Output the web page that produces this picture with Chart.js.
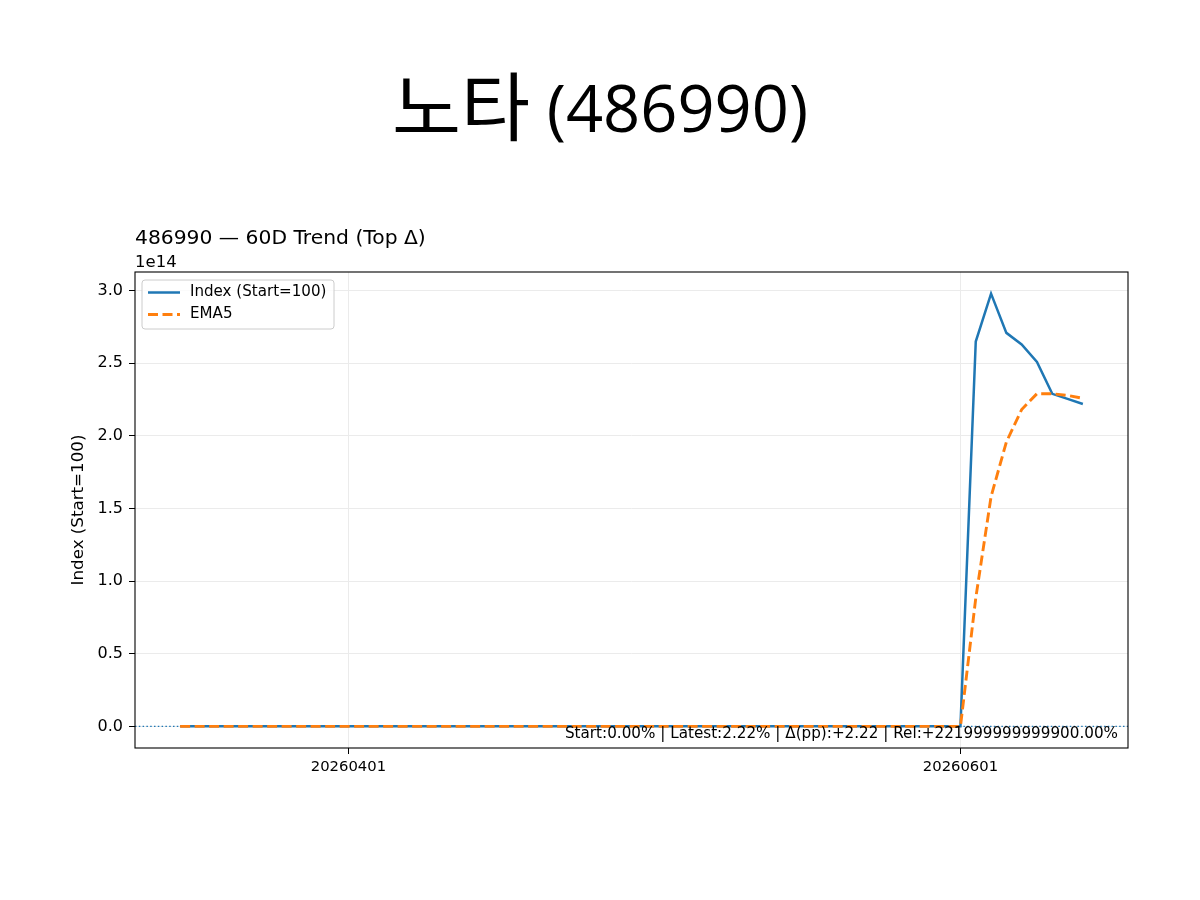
<!DOCTYPE html>
<html><head><meta charset="utf-8">
<script src="https://cdn.jsdelivr.net/npm/chart.js@4.4.1/dist/chart.umd.min.js"></script>
<style>html,body{margin:0;padding:0;background:#fff;} #wrap{width:1200px;height:900px;}</style>
</head><body><div id="wrap"><canvas id="c" width="1200" height="900"></canvas></div>
<script>
// ---- data ----
const dates = [
 '20260317','20260318','20260319','20260320','20260323','20260324','20260325','20260326','20260327','20260330','20260331',
 '20260401','20260402','20260403','20260406','20260407','20260408','20260409','20260410','20260413','20260414','20260415',
 '20260416','20260417','20260420','20260421','20260422','20260423','20260424','20260427','20260428','20260429','20260430',
 '20260504','20260506','20260507','20260508','20260511','20260512','20260513','20260514','20260515','20260518','20260519',
 '20260520','20260521','20260522','20260526','20260527','20260528','20260529',
 '20260601','20260602','20260604','20260605','20260608','20260609','20260610','20260611','20260612'
];
const indexValues = [
 100,100,100,100,100,100,100,100,100,100,100,
 100,100,100,100,100,100,100,100,100,100,100,
 100,100,100,100,100,100,100,100,100,100,100,
 100,100,100,100,100,100,100,100,100,100,100,
 100,100,100,100,100,100,100,
 100,2.65e14,2.98e14,2.71e14,2.63e14,2.51e14,2.29e14,2.255e14,2.22e14
];
const ema5Values = [
 100,100,100,100,100,100,100,100,100,100,100,
 100,100,100,100,100,100,100,100,100,100,100,
 100,100,100,100,100,100,100,100,100,100,100,
 100,100,100,100,100,100,100,100,100,100,100,
 100,100,100,100,100,100,100,
 100,0.883e14,1.582e14,1.958e14,2.182e14,2.291e14,2.291e14,2.279e14,2.259e14
];
const xTickIndices = [11, 51];
const yTickValues = [0, 0.5e14, 1.0e14, 1.5e14, 2.0e14, 2.5e14, 3.0e14];
const baseLineValue = 100;
const titleName = '노타';
const titleCode = '(486990)';
const subTitleText = '486990 — 60D Trend (Top Δ)';
const offsetText = '1e14';
const yAxisLabel = 'Index (Start=100)';
const annotationText = 'Start:0.00% | Latest:2.22% | Δ(pp):+2.22 | Rel:+221999999999900.00%';

const BLUE = '#1f77b4', ORANGE = '#ff7f0e';
const FONT = '"DejaVu Sans", sans-serif';

const deco = {
  id: 'deco',
  beforeDatasetsDraw(chart) {
    const { ctx, chartArea: a, scales: { y } } = chart;
    const py = y.getPixelForValue(baseLineValue);
    ctx.save();
    ctx.strokeStyle = BLUE; ctx.lineWidth = 1.1; ctx.setLineDash([1.5, 2.3]);
    ctx.beginPath(); ctx.moveTo(a.left, py); ctx.lineTo(a.right, py); ctx.stroke();
    ctx.restore();
  },
  afterDraw(chart) {
    const { ctx, chartArea: a } = chart;
    ctx.save();
    // frame
    ctx.strokeStyle = '#000'; ctx.lineWidth = 1.1; ctx.setLineDash([]);
    ctx.strokeRect(a.left, a.top, a.right - a.left, a.bottom - a.top);
    // legend
    const lx = 142, ly = 280, lw = 192, lh = 49, r = 3;
    ctx.beginPath();
    ctx.moveTo(lx + r, ly); ctx.lineTo(lx + lw - r, ly); ctx.quadraticCurveTo(lx + lw, ly, lx + lw, ly + r);
    ctx.lineTo(lx + lw, ly + lh - r); ctx.quadraticCurveTo(lx + lw, ly + lh, lx + lw - r, ly + lh);
    ctx.lineTo(lx + r, ly + lh); ctx.quadraticCurveTo(lx, ly + lh, lx, ly + lh - r);
    ctx.lineTo(lx, ly + r); ctx.quadraticCurveTo(lx, ly, lx + r, ly); ctx.closePath();
    ctx.fillStyle = 'rgba(255,255,255,0.8)'; ctx.fill();
    ctx.strokeStyle = '#cccccc'; ctx.lineWidth = 1; ctx.stroke();
    const ds = chart.data.datasets;
    const rows = [ly + 12.5, ly + 34.5];
    ds.forEach((d, i) => {
      ctx.strokeStyle = d.borderColor; ctx.lineWidth = d.borderWidth;
      ctx.setLineDash(d.borderDash || []);
      ctx.beginPath(); ctx.moveTo(148, rows[i]); ctx.lineTo(180, rows[i]); ctx.stroke();
      ctx.setLineDash([]);
      ctx.fillStyle = '#000'; ctx.font = '15.1px ' + FONT; ctx.textAlign = 'left'; ctx.textBaseline = 'middle';
      ctx.fillText(d.label, 190, rows[i]);
    });
    // annotation
    ctx.fillStyle = '#000'; ctx.font = '15.2px ' + FONT; ctx.textAlign = 'right'; ctx.textBaseline = 'alphabetic';
    ctx.fillText(annotationText, a.right - 10, 738);
    // title (Hangul + code)
    const fName = '75px "Noto Sans CJK KR", sans-serif';
    const fCode = '65px "Open Sans", "Noto Sans", sans-serif';
    ctx.textAlign = 'left';
    ctx.font = fName; const wName = ctx.measureText(titleName).width;
    ctx.font = fCode; const wSpace = ctx.measureText(' ').width; const wCode = ctx.measureText(titleCode).width;
    const total = wName + wSpace + wCode;
    const x0 = 600 - total / 2;
    ctx.font = fName; ctx.fillText(titleName, x0, 135);
    ctx.font = fCode; ctx.fillText(titleCode, x0 + wName + wSpace, 132);
    // subtitle
    ctx.font = '20.3px ' + FONT; ctx.textAlign = 'left';
    ctx.fillText(subTitleText, a.left, 244);
    // offset text
    ctx.font = '16.5px ' + FONT;
    ctx.fillText(offsetText, a.left, 267);
    // y label
    ctx.translate(79, (a.top + a.bottom) / 2); ctx.rotate(-Math.PI / 2);
    ctx.font = '16.7px ' + FONT; ctx.textAlign = 'center'; ctx.textBaseline = 'middle';
    ctx.fillText(yAxisLabel, 0, 0);
    ctx.restore();
  }
};

new Chart(document.getElementById('c'), {
  type: 'line',
  data: {
    datasets: [
      { label: 'Index (Start=100)', data: indexValues.map((v, i) => ({ x: i, y: v })),
        borderColor: BLUE, borderWidth: 2.5, pointRadius: 0, tension: 0, fill: false, order: 1 },
      { label: 'EMA5', data: ema5Values.map((v, i) => ({ x: i, y: v })),
        borderColor: ORANGE, borderWidth: 2.9, borderDash: [10, 4.5], pointRadius: 0, tension: 0, fill: false, order: 0 }
    ]
  },
  options: {
    responsive: false, devicePixelRatio: 1, animation: false,
    layout: { padding: { top: 272, right: 72, left: 0, bottom: 0 } },
    plugins: { legend: { display: false }, tooltip: { enabled: false }, title: { display: false } },
    scales: {
      x: {
        type: 'linear', min: -2.95, max: 61.95,
        afterBuildTicks: s => { s.ticks = xTickIndices.map(v => ({ value: v })); },
        afterFit: s => { s.height = 152; },
        border: { display: false },
        grid: { color: '#ebebeb', lineWidth: 1, tickLength: 6, tickColor: '#000', drawTicks: true },
        ticks: { callback: v => dates[v], color: '#000', font: { family: FONT, size: 14.8 }, padding: 4, maxRotation: 0, autoSkip: false }
      },
      y: {
        type: 'linear', min: 100 - 0.149e14, max: 2.98e14 + 0.149e14,
        afterBuildTicks: s => { s.ticks = yTickValues.map(v => ({ value: v })); },
        afterFit: s => { s.width = 135; },
        border: { display: false },
        grid: { color: '#ebebeb', lineWidth: 1, tickLength: 6, tickColor: '#000', drawTicks: true },
        ticks: { callback: v => (v / 1e14).toFixed(1), color: '#000', font: { family: FONT, size: 16 }, padding: 6 }
      }
    }
  },
  plugins: [deco]
});
</script>
</body></html>
